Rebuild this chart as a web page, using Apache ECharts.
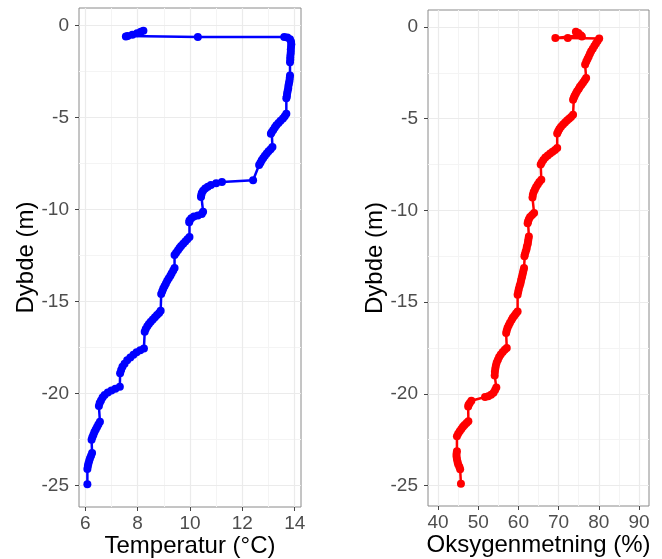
<!DOCTYPE html>
<html>
<head>
<meta charset="utf-8">
<script src="https://cdn.jsdelivr.net/npm/echarts@6/dist/echarts.min.js"></script>
<style>
html,body{margin:0;padding:0;background:#fff;}
#chart{width:662px;height:559px;}
</style>
</head>
<body>
<div id="chart"></div>
<script>
// ---- Temperature profile (°C) vs depth (m), in measurement order ----
var tempC = [
  8.22, 8.12, 7.98, 7.80, 7.62, 7.55, 10.30, 13.60,
  13.72, 13.82, 13.86, 13.87, 13.86, 13.85, 13.85, 13.84, 13.83, 13.83, 13.82,
  13.82, 13.81, 13.80, 13.78, 13.76, 13.75, 13.73, 13.71, 13.70, 13.68,
  13.68, 13.62, 13.55, 13.46, 13.38, 13.30, 13.24, 13.18, 13.12, 13.09,
  13.15, 13.08, 13.00, 12.93, 12.86, 12.80, 12.74, 12.69, 12.64, 12.41,
  11.22, 11.00, 10.80, 10.68, 10.58, 10.50, 10.45, 10.43, 10.42,
  10.50, 10.45, 10.30, 10.15, 10.05, 9.98, 9.97,
  9.98, 9.90, 9.82, 9.74, 9.66, 9.60, 9.54, 9.47, 9.41,
  9.41, 9.36, 9.30, 9.25, 9.19, 9.13, 9.08, 9.03, 8.98, 8.94, 8.90,
  8.88, 8.82, 8.74, 8.66, 8.58, 8.50, 8.43, 8.37, 8.31, 8.27,
  8.24, 8.10, 7.96, 7.84, 7.72, 7.60, 7.50, 7.42, 7.37, 7.33,
  7.32, 7.15, 7.00, 6.86, 6.74, 6.66, 6.60, 6.55, 6.52,
  6.56, 6.50, 6.45, 6.40, 6.35, 6.31, 6.27, 6.24,
  6.26, 6.22, 6.18, 6.15, 6.12, 6.10, 6.08, 6.08
];
var tempDepth = [
  -0.28, -0.34, -0.42, -0.50, -0.57, -0.60, -0.62, -0.62,
  -0.66, -0.75, -0.88, -1.02, -1.16, -1.30, -1.44, -1.58, -1.72, -1.86, -2.00,
  -2.72, -2.86, -3.00, -3.14, -3.28, -3.42, -3.56, -3.70, -3.84, -3.96,
  -4.80, -4.93, -5.05, -5.18, -5.30, -5.42, -5.55, -5.68, -5.80, -5.88,
  -6.60, -6.72, -6.84, -6.96, -7.08, -7.20, -7.33, -7.46, -7.58, -8.41,
  -8.50, -8.58, -8.67, -8.76, -8.86, -8.98, -9.10, -9.22, -9.32,
  -10.12, -10.25, -10.33, -10.38, -10.48, -10.60, -10.70,
  -11.50, -11.62, -11.74, -11.86, -11.98, -12.10, -12.22, -12.35, -12.48,
  -13.18, -13.32, -13.46, -13.60, -13.74, -13.88, -14.02, -14.16, -14.30, -14.45, -14.60,
  -15.50, -15.62, -15.74, -15.86, -15.98, -16.10, -16.22, -16.35, -16.50, -16.65,
  -17.56, -17.65, -17.76, -17.90, -18.05, -18.20, -18.38, -18.55, -18.72, -18.90,
  -19.64, -19.74, -19.84, -19.95, -20.08, -20.22, -20.38, -20.52, -20.68,
  -21.54, -21.68, -21.82, -21.96, -22.10, -22.24, -22.38, -22.52,
  -23.24, -23.38, -23.52, -23.66, -23.80, -23.94, -24.10, -24.93
];

// ---- Oxygen saturation (%) vs depth (m), in measurement order ----
var oxySat = [
  74.3, 74.9, 75.5, 75.8, 69.2, 72.3, 80.1,
  79.7, 79.3, 78.9, 78.5, 78.1, 77.8, 77.5, 77.2, 76.9, 76.6,
  76.85, 76.5, 76.1, 75.7, 75.3, 75.0, 74.6, 74.3, 74.0, 73.8, 73.6,
  73.6, 73.1, 72.6, 72.1, 71.6, 71.1, 70.6, 70.2, 69.9, 69.65,
  69.65, 69.1, 68.5, 67.9, 67.3, 66.7, 66.2, 65.8, 65.55,
  65.7, 65.2, 64.8, 64.4, 64.1, 63.8, 63.6, 63.5,
  63.9, 63.4, 62.9, 62.6, 62.4, 62.3,
  62.6, 62.5, 62.4, 62.3, 62.1, 62.0, 61.8, 61.6, 61.5,
  61.4, 61.25, 61.1, 60.95, 60.8, 60.65, 60.5, 60.3, 60.1, 59.95, 59.8,
  59.8, 59.4, 59.0, 58.6, 58.3, 57.9, 57.6, 57.3, 57.1, 56.95,
  57.1, 56.6, 56.1, 55.6, 55.2, 54.9, 54.6, 54.4, 54.25, 54.15, 54.1,
  54.5, 54.2, 53.8, 53.2, 52.5, 51.7, 48.3, 47.9, 47.6, 47.5,
  47.55, 47.1, 46.6, 46.2, 45.8, 45.4, 45.0, 44.7,
  44.7, 44.6, 44.6, 44.7, 44.85, 45.0, 45.3, 45.5, 45.7
];
var oxyDepth = [
  -0.25, -0.33, -0.45, -0.52, -0.60, -0.60, -0.62,
  -0.76, -0.90, -1.04, -1.18, -1.32, -1.46, -1.60, -1.74, -1.88, -2.04,
  -2.78, -2.90, -3.02, -3.14, -3.26, -3.38, -3.50, -3.62, -3.74, -3.86, -3.96,
  -4.78, -4.90, -5.00, -5.10, -5.20, -5.32, -5.44, -5.56, -5.68, -5.80,
  -6.60, -6.70, -6.80, -6.90, -7.00, -7.12, -7.25, -7.38, -7.50,
  -8.33, -8.45, -8.58, -8.72, -8.86, -9.00, -9.15, -9.30,
  -10.14, -10.25, -10.36, -10.48, -10.60, -10.70,
  -11.42, -11.56, -11.70, -11.84, -11.98, -12.12, -12.26, -12.40, -12.50,
  -13.14, -13.28, -13.42, -13.56, -13.70, -13.84, -13.98, -14.12, -14.28, -14.44, -14.60,
  -15.51, -15.62, -15.74, -15.86, -15.98, -16.12, -16.26, -16.40, -16.55, -16.69,
  -17.50, -17.60, -17.72, -17.86, -18.00, -18.14, -18.30, -18.46, -18.62, -18.80, -19.00,
  -19.66, -19.80, -19.94, -20.05, -20.13, -20.18, -20.38, -20.50, -20.60, -20.70,
  -21.50, -21.60, -21.70, -21.80, -21.92, -22.04, -22.18, -22.32,
  -23.14, -23.28, -23.42, -23.56, -23.70, -23.84, -23.98, -24.12, -24.90
];

// ---- Tick labels ----
var tempTicks = [6, 8, 10, 12, 14];
var tempMinor = [7, 9, 11, 13];
var oxyTicks = [40, 50, 60, 70, 80, 90];
var oxyMinor = [45, 55, 65, 75, 85];
var depthTicks = [0, -5, -10, -15, -20, -25];
var depthMinor = [-2.5, -7.5, -12.5, -17.5, -22.5];

var tempTitle = 'Temperatur (°C)';
var oxyTitle = 'Oksygenmetning (%)';
var depthTitle = 'Dybde (m)';

function zip(xs, ys) {
  var out = [];
  for (var i = 0; i < Math.min(xs.length, ys.length); i++) out.push([xs[i], ys[i]]);
  return out;
}

var FONT = '"Liberation Sans", Arial, sans-serif';
var majorLine = { show: true, lineStyle: { color: '#EBEBEB', width: 1.2 } };
var minorLine = { show: true, lineStyle: { color: '#F4F4F4', width: 1 } };
var tickStyle = { show: true, inside: false, length: 4, lineStyle: { color: '#444', width: 1 } };
var labelStyle = { color: '#4D4D4D', fontSize: 19, fontFamily: FONT };
var nameStyle = { color: '#000', fontSize: 24, fontFamily: FONT };

function mainX(grid, min, max, ticks, title) {
  return {
    type: 'value', gridIndex: grid, min: min, max: max, position: 'bottom',
    axisLine: { show: false, onZero: false },
    axisTick: Object.assign({ customValues: ticks }, tickStyle),
    axisLabel: Object.assign({ customValues: ticks, margin: 7 }, labelStyle),
    splitLine: majorLine,
    name: title, nameLocation: 'middle', nameGap: 27, nameMoveOverlap: false, nameTextStyle: nameStyle,
    z: 2
  };
}
function minorX(grid, min, max, vals) {
  return {
    type: 'value', gridIndex: grid, min: min, max: max, position: 'bottom',
    axisLine: { show: false, onZero: false },
    axisTick: { show: false, customValues: vals },
    axisLabel: { show: false, customValues: vals },
    splitLine: minorLine, z: 1
  };
}
function mainY(grid, min, max) {
  return {
    type: 'value', gridIndex: grid, min: min, max: max, position: 'left',
    axisLine: { show: false, onZero: false },
    axisTick: Object.assign({ customValues: depthTicks }, tickStyle),
    axisLabel: Object.assign({ customValues: depthTicks, margin: 10 }, labelStyle),
    splitLine: majorLine,
    name: depthTitle, nameLocation: 'middle', nameGap: 41, nameMoveOverlap: false, nameTextStyle: nameStyle,
    z: 2
  };
}
function minorY(grid, min, max) {
  return {
    type: 'value', gridIndex: grid, min: min, max: max, position: 'left',
    axisLine: { show: false, onZero: false },
    axisTick: { show: false, customValues: depthMinor },
    axisLabel: { show: false, customValues: depthMinor },
    splitLine: minorLine, z: 1
  };
}

var chart = echarts.init(document.getElementById('chart'), null, { renderer: 'canvas' });
chart.setOption({
  animation: false,
  backgroundColor: '#fff',
  grid: [
    { left: 79, top: 8, width: 222, height: 499, show: true, borderColor: '#8A8A8A', borderWidth: 1, backgroundColor: 'transparent', containLabel: false, outerBoundsMode: 'none' },
    { left: 428, top: 10, width: 221, height: 496, show: true, borderColor: '#8A8A8A', borderWidth: 1, backgroundColor: 'transparent', containLabel: false, outerBoundsMode: 'none' }
  ],
  xAxis: [
    mainX(0, 5.76, 14.24, tempTicks, tempTitle),
    minorX(0, 5.76, 14.24, tempMinor),
    mainX(1, 37.5, 92.5, oxyTicks, oxyTitle),
    minorX(1, 37.5, 92.5, oxyMinor)
  ],
  yAxis: [
    mainY(0, -26.17, 0.95),
    minorY(0, -26.17, 0.95),
    mainY(1, -26.12, 0.93),
    minorY(1, -26.12, 0.93)
  ],
  series: [
    {
      type: 'line', xAxisIndex: 0, yAxisIndex: 0,
      data: zip(tempC, tempDepth),
      symbol: 'circle', symbolSize: 8, showSymbol: true,
      lineStyle: { color: '#0000FF', width: 2.5 },
      itemStyle: { color: '#0000FF' },
      z: 5
    },
    {
      type: 'line', xAxisIndex: 2, yAxisIndex: 2,
      data: zip(oxySat, oxyDepth),
      symbol: 'circle', symbolSize: 8, showSymbol: true,
      lineStyle: { color: '#FF0000', width: 2.5 },
      itemStyle: { color: '#FF0000' },
      z: 5
    }
  ]
});
</script>
</body>
</html>
